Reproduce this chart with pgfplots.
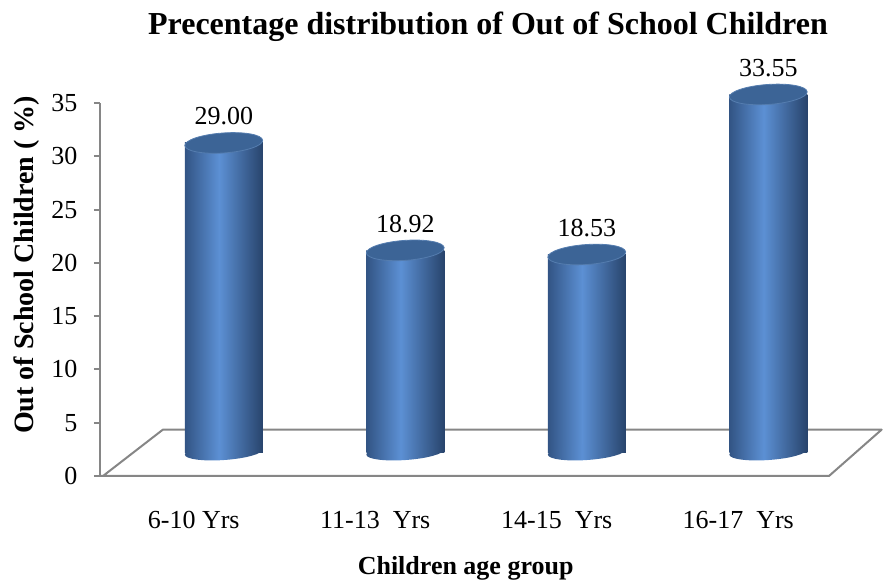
\documentclass[border=0pt]{standalone}
\usepackage{fontspec}
\setmainfont{Liberation Serif}
\usepackage{pgfplots}
\pgfplotsset{compat=1.18}

\definecolor{axgray}{RGB}{134,134,134}
\definecolor{cylA}{RGB}{50,84,132}
\definecolor{cylB}{RGB}{92,144,212}
\definecolor{cylC}{RGB}{40,68,108}
\definecolor{capfill}{RGB}{60,100,150}
\definecolor{capedge}{RGB}{85,125,175}

% side of the cylinders, dark at the edges, light a bit left of centre
\pgfdeclarehorizontalshading{cyl}{100bp}{color(0bp)=(cylA); color(25bp)=(cylA); color(47bp)=(cylB); color(75bp)=(cylC); color(100bp)=(cylC)}

% bottom and top caps of the cylinders
\pgfdeclareplotmark{cylbase}{%
  \pgfpathellipse{\pgfpointorigin}{\pgfqpoint{38.9pt}{2.7pt}}{\pgfqpoint{-0.56pt}{7.98pt}}%
  \pgfshadepath{cyl}{0}\pgfusepath{}}
\pgfdeclareplotmark{cyltop}{%
  \pgfpathellipse{\pgfpointorigin}{\pgfqpoint{38.9pt}{2.7pt}}{\pgfqpoint{-0.7pt}{9.97pt}}%
  \pgfsetfillcolor{capfill}\pgfsetstrokecolor{capedge}\pgfsetlinewidth{0.8pt}%
  \pgfusepath{fill,stroke}}

\pgfplotsset{cylside/.style={ybar, bar width=78pt, bar shift=0pt, draw=none, shade, shading=cyl}}

\begin{document}
\begin{tikzpicture}
  \begin{axis}[
    scale only axis, width=783pt, height=373pt,
    xmin=-0.0165, xmax=4.2975,
    ymin=0, ymax=35,
    clip=false,
    axis y line*=left, axis x line*=bottom,
    x axis line style={draw=none},
    y axis line style={draw=axgray, line width=2pt, -},
    xtick={0.5,1.5,2.5,3.5},
    xticklabels={6-10 Yrs, 11-13~ Yrs, 14-15~ Yrs, 16-17~ Yrs},
    xtick style={draw=none},
    ytick={0,5,...,35},
    ytick style={draw=axgray, line width=2pt},
    tick align=outside, major tick length=6pt,
    tick label style={font=\fontsize{26}{31}\selectfont},
    /pgf/number format/assume math mode=true,
    xticklabel style={anchor=base, yshift=-47pt},
    yticklabel style={xshift=-13pt},
    title={Precentage distribution of Out of School Children},
    title style={font=\bfseries\fontsize{32}{38}\selectfont,
      at={(axis description cs:0.4955,1)}, anchor=base, yshift=62pt},
    xlabel={Children age group},
    xlabel style={font=\bfseries\fontsize{26}{31}\selectfont,
      at={(axis description cs:0.467,0)}, anchor=base, yshift=-99pt},
    ylabel={Out of School Children (~\%)},
    ylabel style={font=\bfseries\fontsize{28}{33}\selectfont,
      at={(axis description cs:-0.0932,0.566)}, anchor=center},
  ]
    % floor of the 3-D plot area
    \addplot[draw=axgray, line width=2pt, line join=round]
      coordinates {(-0.0165,0)(4,0)(4.29,4.35)(0.33,4.35)(0,0)};
    \path (rel axis cs:-0.12771,-0.28954) rectangle (rel axis cs:1,1.27614);
  \end{axis}

  % cylinders, set back by half the depth of the floor
  \begin{axis}[
    scale only axis, width=783pt, height=373pt,
    hide axis, clip=false,
    xmin=-0.1818, xmax=4.1322,
    ymin=-2.25, ymax=32.75,
    /pgf/number format/assume math mode=true,
  ]
    \addplot[only marks, mark=cylbase]
      coordinates {(0.5,0)(1.5,0)(2.5,0)(3.5,0)};
    % one plot per cylinder so that each gets its own shading
    \addplot[cylside] coordinates {(0.5,29.00)};
    \addplot[cylside] coordinates {(1.5,18.92)};
    \addplot[cylside] coordinates {(2.5,18.53)};
    \addplot[cylside] coordinates {(3.5,33.55)};
    \addplot[only marks, mark=cyltop, point meta=y,
      nodes near coords={\pgfmathprintnumber[fixed,fixed zerofill,precision=2]{\pgfplotspointmeta}},
      nodes near coords style={font=\fontsize{26}{31}\selectfont, anchor=base, yshift=18pt}]
      coordinates {(0.5,29.00)(1.5,18.92)(2.5,18.53)(3.5,33.55)};
  \end{axis}
\end{tikzpicture}
\end{document}
